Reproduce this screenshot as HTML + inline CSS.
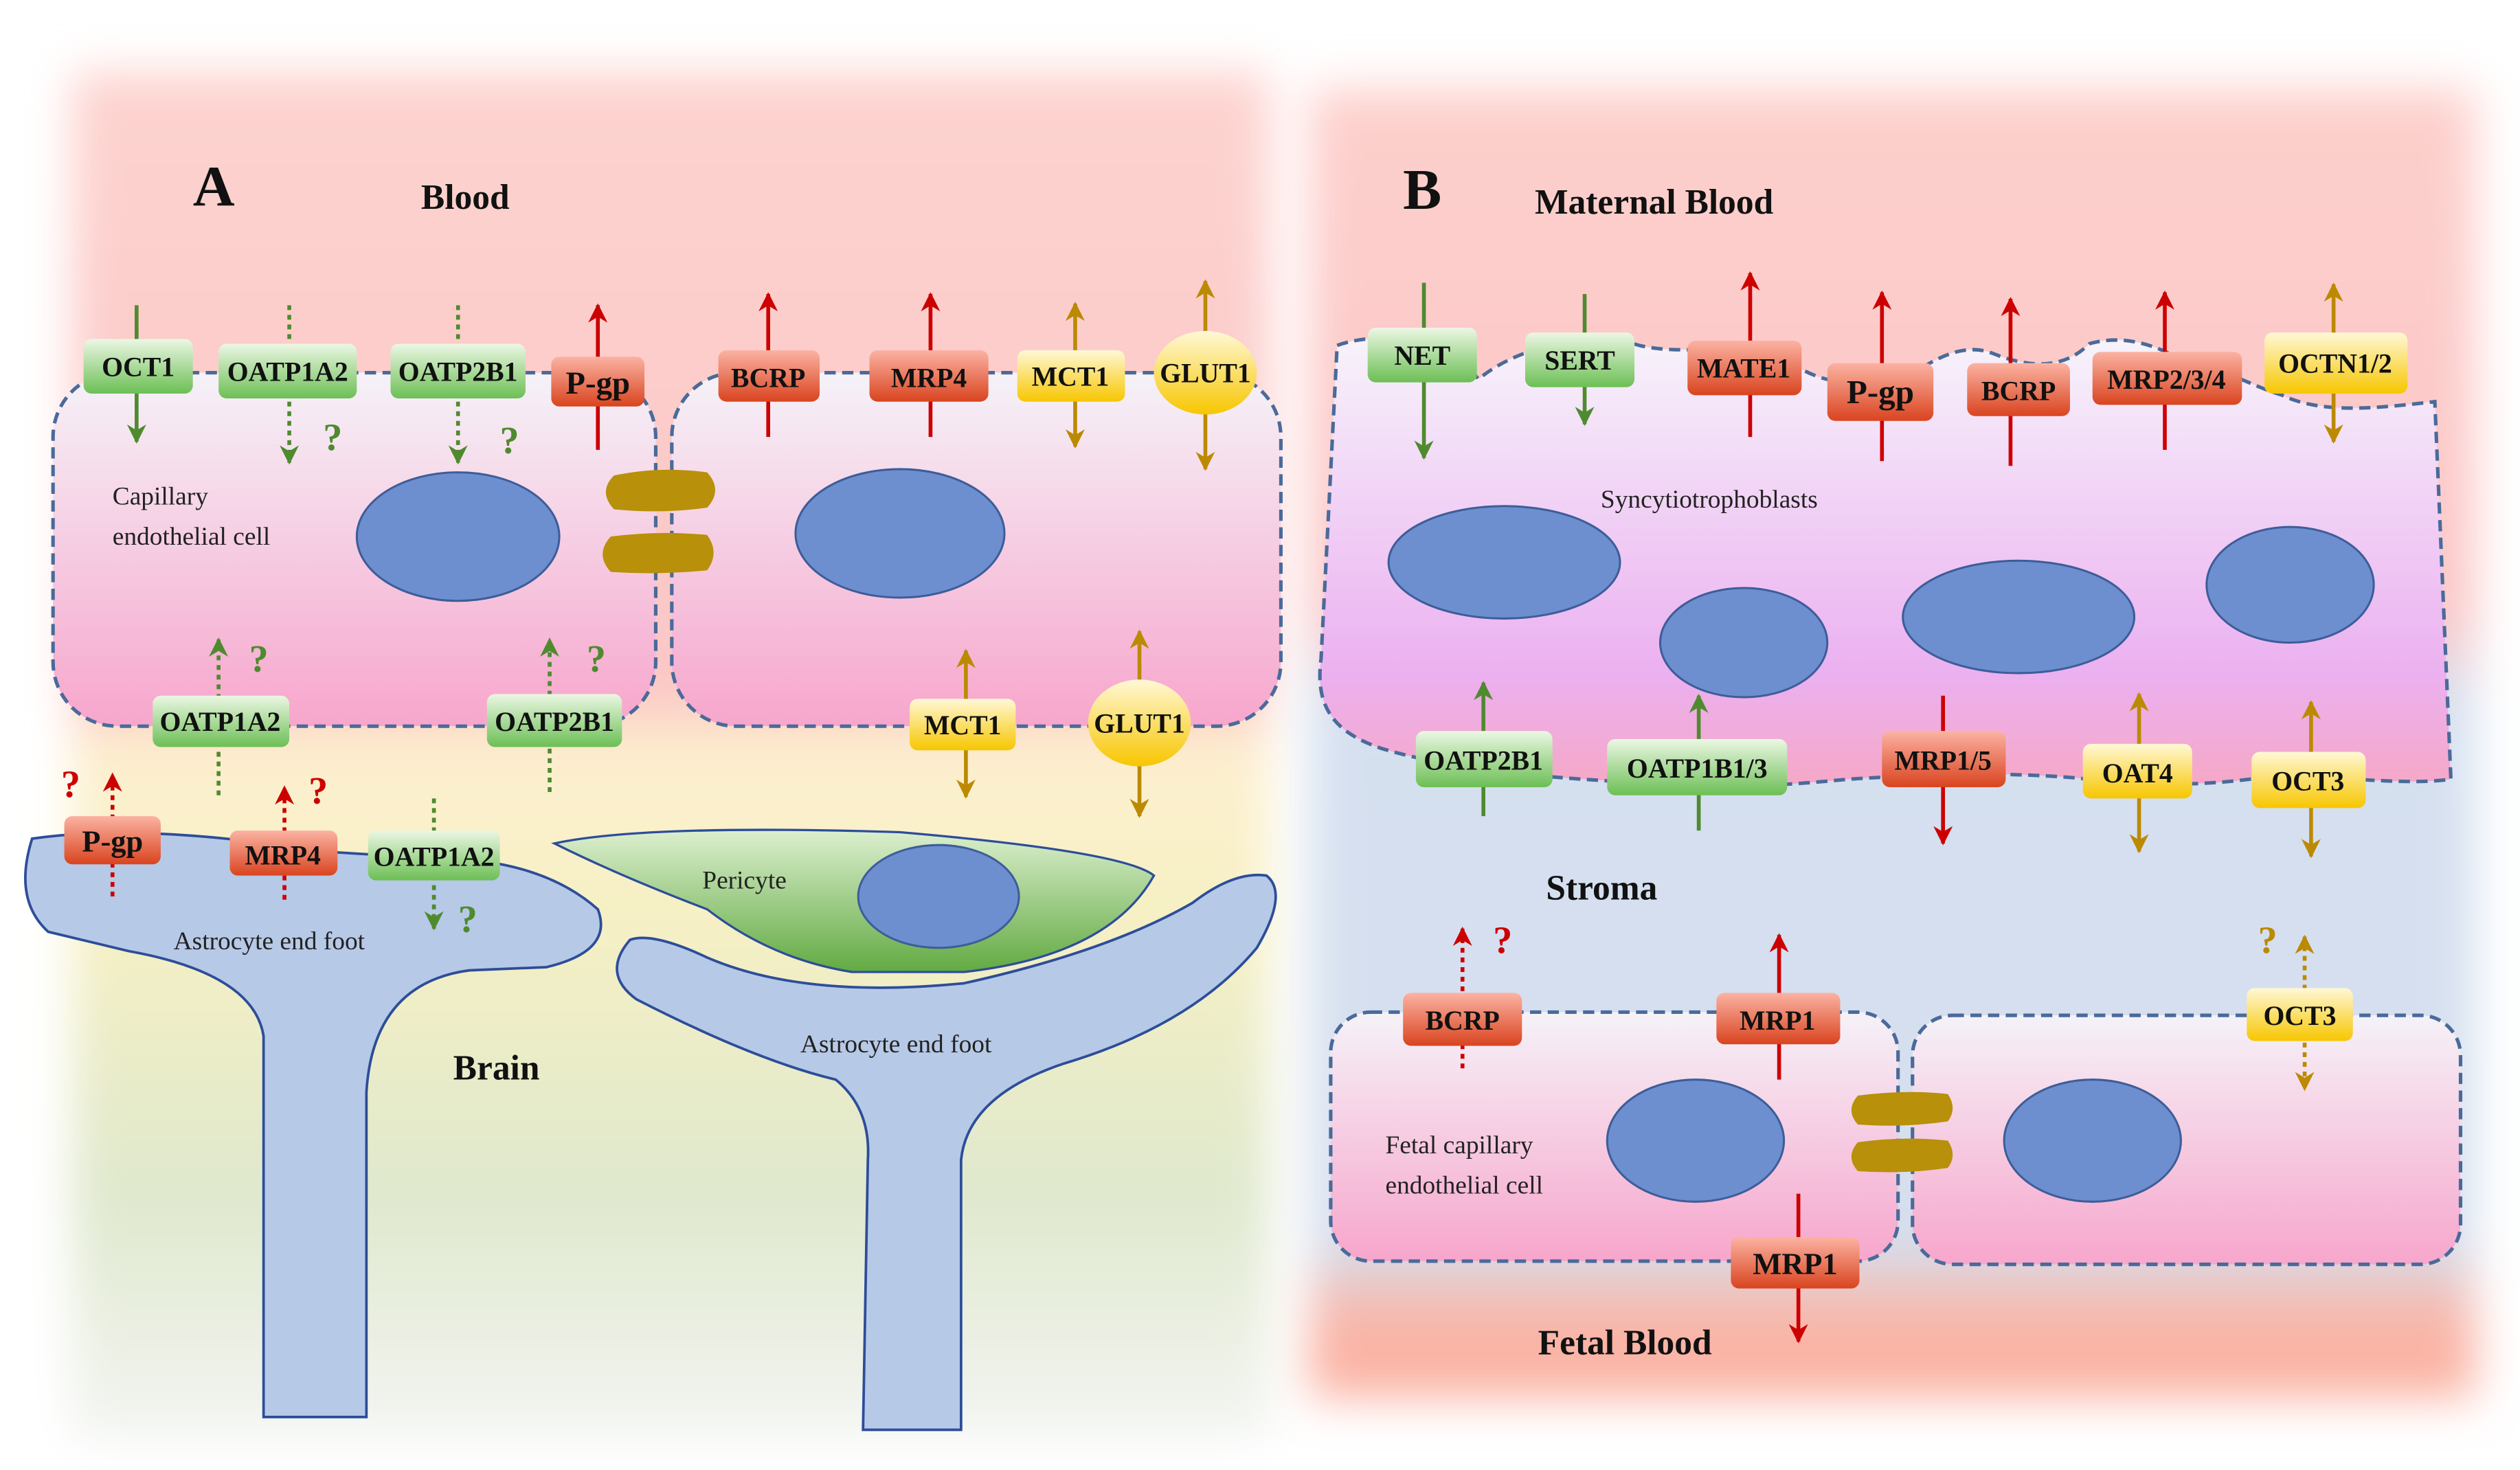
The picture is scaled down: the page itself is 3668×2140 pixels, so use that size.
<!DOCTYPE html>
<html><head><meta charset="utf-8"><style>
html,body{margin:0;padding:0;background:#fff;}
svg{display:block;font-family:"Liberation Serif","DejaVu Serif",serif;}
svg text{font-family:"Liberation Serif","DejaVu Serif",serif;}
.b{font-weight:bold;font-size:17px;text-anchor:middle;fill:#111;}
.t{font-size:16px;fill:#222;}
.h{font-weight:bold;font-size:22px;fill:#111;}
.q{font-weight:bold;font-size:24px;}
.cell{stroke:#4a6a9a;stroke-width:2.2;stroke-dasharray:7,4;}
.nuc{fill:#6d8fcf;stroke:#3d5d99;stroke-width:1.3;}
.g{stroke:#4f8a2f;stroke-width:2.4;fill:none;}
.r{stroke:#cc0000;stroke-width:2.4;fill:none;}
.y{stroke:#bb8a00;stroke-width:2.4;fill:none;}
.d{stroke-dasharray:3,3;}
</style></head><body>
<svg width="3668" height="2140" viewBox="0 0 1568 915" preserveAspectRatio="none" font-family="Liberation Serif, DejaVu Serif, serif" xmlns="http://www.w3.org/2000/svg">
<defs>
<filter id="bl" x="-10%" y="-10%" width="120%" height="120%"><feGaussianBlur stdDeviation="14"/></filter>
<linearGradient id="bgA" x1="0" y1="0" x2="0" y2="1">
<stop offset="0" stop-color="#fdd3cf"/><stop offset="0.45" stop-color="#fbc6c6"/><stop offset="0.5" stop-color="#fdf0cf"/><stop offset="0.62" stop-color="#f6f0c4"/><stop offset="0.82" stop-color="#dfe8cd"/><stop offset="1" stop-color="#f3f5f2"/></linearGradient>
<linearGradient id="bgB" x1="0" y1="0" x2="0" y2="1">
<stop offset="0" stop-color="#fdd0cc"/><stop offset="0.40" stop-color="#fbc6c6"/><stop offset="0.47" stop-color="#d5e0f0"/><stop offset="0.88" stop-color="#d5dfee"/><stop offset="0.94" stop-color="#f9b6a8"/><stop offset="1" stop-color="#fbb0a0"/></linearGradient>
<linearGradient id="cellg" x1="0" y1="0" x2="0" y2="1"><stop offset="0" stop-color="#f5f2f8"/><stop offset="1" stop-color="#f7a6cc"/></linearGradient>
<linearGradient id="syn" x1="0" y1="0" x2="0" y2="1"><stop offset="0" stop-color="#f7f3fb"/><stop offset="0.75" stop-color="#ebb0f0"/><stop offset="1" stop-color="#f6a8c6"/></linearGradient>
<linearGradient id="gg" x1="0" y1="0" x2="0" y2="1"><stop offset="0" stop-color="#ecf7e4"/><stop offset="1" stop-color="#6cbf55"/></linearGradient>
<linearGradient id="rg" x1="0" y1="0" x2="0" y2="1"><stop offset="0" stop-color="#fbb3a3"/><stop offset="1" stop-color="#d9441f"/></linearGradient>
<linearGradient id="yg" x1="0" y1="0" x2="0" y2="1"><stop offset="0" stop-color="#fff8d6"/><stop offset="1" stop-color="#f7c600"/></linearGradient>
<linearGradient id="peri" x1="0" y1="0" x2="0" y2="1"><stop offset="0" stop-color="#dcefcf"/><stop offset="1" stop-color="#62aa42"/></linearGradient>
<marker id="mg" viewBox="0 0 10 10" refX="9" refY="5" markerWidth="5" markerHeight="5" orient="auto-start-reverse" markerUnits="strokeWidth"><path d="M0,0 L10,5 L0,10 L3,5 z" fill="#4f8a2f"/></marker>
<marker id="mr" viewBox="0 0 10 10" refX="9" refY="5" markerWidth="5" markerHeight="5" orient="auto-start-reverse" markerUnits="strokeWidth"><path d="M0,0 L10,5 L0,10 L3,5 z" fill="#cc0000"/></marker>
<marker id="my" viewBox="0 0 10 10" refX="9" refY="5" markerWidth="5" markerHeight="5" orient="auto-start-reverse" markerUnits="strokeWidth"><path d="M0,0 L10,5 L0,10 L3,5 z" fill="#bb8a00"/></marker>
</defs>

<rect x="45" y="45" width="745" height="850" fill="url(#bgA)" filter="url(#bl)"/>
<rect x="815" y="55" width="725" height="815" fill="url(#bgB)" filter="url(#bl)"/>

<!-- ===== Panel A ===== -->
<text x="120" y="128" class="h" style="font-size:36px">A</text>
<text x="262" y="130" class="h">Blood</text>

<rect x="33" y="232" width="375" height="220" rx="40" fill="url(#cellg)" class="cell"/>
<rect x="418" y="232" width="379" height="220" rx="40" fill="url(#cellg)" class="cell"/>
<ellipse cx="285" cy="334" rx="63" ry="40" class="nuc"/>
<ellipse cx="560" cy="332" rx="65" ry="40" class="nuc"/>
<path d="M382,296 Q410,290 440,294 Q450,305 440,316 Q410,320 382,317 Q372,306 382,296 Z" fill="#b8900a"/>
<path d="M380,334 Q410,330 440,333 Q448,344 440,355 Q410,358 380,356 Q370,345 380,334 Z" fill="#b8900a"/>
<text x="70" y="314" class="t">Capillary</text>
<text x="70" y="339" class="t">endothelial  cell</text>

<line x1="85" y1="190" x2="85" y2="275" class="g" marker-end="url(#mg)"/>
<line x1="180" y1="190" x2="180" y2="288" class="g d" marker-end="url(#mg)"/>
<line x1="285" y1="190" x2="285" y2="288" class="g d" marker-end="url(#mg)"/>
<line x1="372" y1="280" x2="372" y2="190" class="r" marker-end="url(#mr)"/>
<line x1="478" y1="272" x2="478" y2="183" class="r" marker-end="url(#mr)"/>
<line x1="579" y1="272" x2="579" y2="183" class="r" marker-end="url(#mr)"/>
<line x1="669" y1="189" x2="669" y2="278" class="y" marker-start="url(#my)" marker-end="url(#my)"/>
<line x1="750" y1="175" x2="750" y2="292" class="y" marker-start="url(#my)" marker-end="url(#my)"/>
<text x="201" y="280" class="q" fill="#4f8a2f">?</text>
<text x="311" y="282" class="q" fill="#4f8a2f">?</text>

<rect x="52" y="211" width="68" height="34" rx="5" fill="url(#gg)"/><text x="86" y="234" class="b">OCT1</text>
<rect x="136" y="214" width="86" height="34" rx="5" fill="url(#gg)"/><text x="179" y="237" class="b">OATP1A2</text>
<rect x="243" y="214" width="84" height="34" rx="5" fill="url(#gg)"/><text x="285" y="237" class="b">OATP2B1</text>
<rect x="343" y="222" width="58" height="31" rx="5" fill="url(#rg)"/><text x="372" y="245" class="b" style="font-size:20px">P-gp</text>
<rect x="447" y="218" width="63" height="32" rx="5" fill="url(#rg)"/><text x="478" y="241" class="b">BCRP</text>
<rect x="541" y="218" width="74" height="32" rx="5" fill="url(#rg)"/><text x="578" y="241" class="b">MRP4</text>
<rect x="633" y="218" width="67" height="32" rx="5" fill="url(#yg)"/><text x="666" y="240" class="b">MCT1</text>
<ellipse cx="750" cy="232" rx="32" ry="26" fill="url(#yg)"/><text x="750" y="238" class="b">GLUT1</text>

<line x1="136" y1="495" x2="136" y2="398" class="g d" marker-end="url(#mg)"/>
<line x1="342" y1="493" x2="342" y2="398" class="g d" marker-end="url(#mg)"/>
<text x="155" y="418" class="q" fill="#4f8a2f">?</text>
<text x="365" y="418" class="q" fill="#4f8a2f">?</text>
<line x1="601" y1="405" x2="601" y2="496" class="y" marker-start="url(#my)" marker-end="url(#my)"/>
<line x1="709" y1="393" x2="709" y2="508" class="y" marker-start="url(#my)" marker-end="url(#my)"/>
<rect x="95" y="433" width="85" height="32" rx="5" fill="url(#gg)"/><text x="137" y="455" class="b">OATP1A2</text>
<rect x="303" y="432" width="84" height="33" rx="5" fill="url(#gg)"/><text x="345" y="455" class="b">OATP2B1</text>
<rect x="566" y="435" width="66" height="32" rx="5" fill="url(#yg)"/><text x="599" y="457" class="b">MCT1</text>
<ellipse cx="709" cy="450" rx="32" ry="27" fill="url(#yg)"/><text x="709" y="456" class="b">GLUT1</text>

<path d="M20,522 Q8,560 30,580 L80,592 Q158,606 164,645 L164,882 L228,882 L228,680 Q232,612 292,604 L340,602 Q382,592 372,566 Q345,542 300,536 L200,530 Q90,512 20,522 Z" fill="#b6c9e6" stroke="#2d4d99" stroke-width="1.6"/>
<text x="108" y="591" class="t">Astrocyte end foot</text>
<line x1="70" y1="558" x2="70" y2="482" class="r d" marker-end="url(#mr)"/>
<line x1="177" y1="560" x2="177" y2="490" class="r d" marker-end="url(#mr)"/>
<line x1="270" y1="497" x2="270" y2="578" class="g d" marker-end="url(#mg)"/>
<text x="38" y="496" class="q" fill="#cc0000">?</text>
<text x="192" y="500" class="q" fill="#cc0000">?</text>
<text x="285" y="580" class="q" fill="#4f8a2f">?</text>
<rect x="40" y="508" width="60" height="30" rx="5" fill="url(#rg)"/><text x="70" y="530" class="b" style="font-size:19px">P-gp</text>
<rect x="143" y="517" width="67" height="28" rx="5" fill="url(#rg)"/><text x="176" y="538" class="b">MRP4</text>
<rect x="229" y="517" width="82" height="31" rx="5" fill="url(#gg)"/><text x="270" y="539" class="b">OATP1A2</text>

<path d="M345,525 Q400,513 560,518 Q700,530 718,545 Q690,595 600,605 L530,605 Q480,597 440,566 Q385,545 345,525 Z" fill="url(#peri)" stroke="#2d4d99" stroke-width="1.4"/>
<ellipse cx="584" cy="558" rx="50" ry="32" class="nuc"/>
<text x="437" y="553" class="t">Pericyte</text>

<path d="M392,585 Q374,606 396,622 Q470,660 520,672 Q542,690 540,722 L537,890 L598,890 L598,722 Q602,682 662,662 Q742,638 782,590 Q802,556 788,545 Q768,542 742,562 Q690,592 600,612 Q500,622 440,596 Q406,580 392,585 Z" fill="#b6c9e6" stroke="#2d4d99" stroke-width="1.6"/>
<text x="498" y="655" class="t">Astrocyte end foot</text>
<text x="282" y="672" class="h">Brain</text>

<!-- ===== Panel B ===== -->
<text x="873" y="130" class="h" style="font-size:36px">B</text>
<text x="955" y="133" class="h">Maternal Blood</text>

<path d="M832,215 C860,205 900,212 920,236 C945,215 990,206 1020,215 C1050,222 1080,212 1110,222 C1130,240 1160,242 1185,236 C1200,226 1220,212 1240,220 C1270,232 1288,226 1300,214 C1320,208 1342,214 1360,226 C1382,228 1400,240 1420,246 C1445,258 1480,254 1515,250 L1525,485 C1490,490 1440,480 1400,485 C1360,490 1330,488 1300,485 C1250,480 1200,482 1150,485 C1100,490 1050,492 1000,486 C950,483 900,478 860,466 C830,456 818,440 822,410 Z" fill="url(#syn)" class="cell"/>
<ellipse cx="936" cy="350" rx="72" ry="35" class="nuc"/>
<ellipse cx="1085" cy="400" rx="52" ry="34" class="nuc"/>
<ellipse cx="1256" cy="384" rx="72" ry="35" class="nuc"/>
<ellipse cx="1425" cy="364" rx="52" ry="36" class="nuc"/>
<text x="996" y="316" class="t">Syncytiotrophoblasts</text>

<line x1="886" y1="176" x2="886" y2="285" class="g" marker-end="url(#mg)"/>
<line x1="986" y1="183" x2="986" y2="264" class="g" marker-end="url(#mg)"/>
<line x1="1089" y1="272" x2="1089" y2="170" class="r" marker-end="url(#mr)"/>
<line x1="1171" y1="287" x2="1171" y2="182" class="r" marker-end="url(#mr)"/>
<line x1="1251" y1="290" x2="1251" y2="186" class="r" marker-end="url(#mr)"/>
<line x1="1347" y1="280" x2="1347" y2="182" class="r" marker-end="url(#mr)"/>
<line x1="1452" y1="177" x2="1452" y2="275" class="y" marker-start="url(#my)" marker-end="url(#my)"/>

<rect x="851" y="204" width="68" height="34" rx="5" fill="url(#gg)"/><text x="885" y="227" class="b">NET</text>
<rect x="949" y="207" width="68" height="34" rx="5" fill="url(#gg)"/><text x="983" y="230" class="b">SERT</text>
<rect x="1050" y="212" width="71" height="34" rx="5" fill="url(#rg)"/><text x="1085" y="235" class="b">MATE1</text>
<rect x="1137" y="226" width="66" height="36" rx="5" fill="url(#rg)"/><text x="1170" y="251" class="b" style="font-size:21px">P-gp</text>
<rect x="1224" y="226" width="64" height="33" rx="5" fill="url(#rg)"/><text x="1256" y="249" class="b">BCRP</text>
<rect x="1302" y="219" width="93" height="33" rx="5" fill="url(#rg)"/><text x="1348" y="242" class="b">MRP2/3/4</text>
<rect x="1409" y="207" width="89" height="38" rx="5" fill="url(#yg)"/><text x="1453" y="232" class="b">OCTN1/2</text>

<line x1="923" y1="508" x2="923" y2="425" class="g" marker-end="url(#mg)"/>
<line x1="1057" y1="517" x2="1057" y2="433" class="g" marker-end="url(#mg)"/>
<line x1="1209" y1="433" x2="1209" y2="525" class="r" marker-end="url(#mr)"/>
<line x1="1331" y1="432" x2="1331" y2="530" class="y" marker-start="url(#my)" marker-end="url(#my)"/>
<line x1="1438" y1="437" x2="1438" y2="533" class="y" marker-start="url(#my)" marker-end="url(#my)"/>
<rect x="881" y="455" width="85" height="35" rx="5" fill="url(#gg)"/><text x="923" y="479" class="b">OATP2B1</text>
<rect x="1000" y="460" width="112" height="35" rx="5" fill="url(#gg)"/><text x="1056" y="484" class="b">OATP1B1/3</text>
<rect x="1171" y="455" width="77" height="35" rx="5" fill="url(#rg)"/><text x="1209" y="479" class="b">MRP1/5</text>
<rect x="1296" y="463" width="68" height="34" rx="5" fill="url(#yg)"/><text x="1330" y="487" class="b">OAT4</text>
<rect x="1401" y="468" width="71" height="35" rx="5" fill="url(#yg)"/><text x="1436" y="492" class="b">OCT3</text>

<text x="962" y="560" class="h">Stroma</text>

<rect x="828" y="630" width="353" height="155" rx="25" fill="url(#cellg)" class="cell"/>
<rect x="1190" y="632" width="341" height="155" rx="25" fill="url(#cellg)" class="cell"/>
<ellipse cx="1055" cy="710" rx="55" ry="38" class="nuc"/>
<ellipse cx="1302" cy="710" rx="55" ry="38" class="nuc"/>
<path d="M1156,682 Q1185,678 1212,681 Q1218,690 1212,698 Q1185,702 1156,700 Q1148,691 1156,682 Z" fill="#b8900a"/>
<path d="M1156,711 Q1185,707 1212,710 Q1218,719 1212,727 Q1185,731 1156,729 Q1148,720 1156,711 Z" fill="#b8900a"/>
<text x="862" y="718" class="t">Fetal capillary</text>
<text x="862" y="743" class="t">endothelial cell</text>

<line x1="910" y1="665" x2="910" y2="578" class="r d" marker-end="url(#mr)"/>
<line x1="1107" y1="672" x2="1107" y2="582" class="r" marker-end="url(#mr)"/>
<line x1="1434" y1="583" x2="1434" y2="678" class="y d" marker-start="url(#my)" marker-end="url(#my)"/>
<line x1="1119" y1="743" x2="1119" y2="835" class="r" marker-end="url(#mr)"/>
<text x="929" y="593" class="q" fill="#cc0000">?</text>
<text x="1405" y="593" class="q" fill="#bb8a00">?</text>
<rect x="873" y="618" width="74" height="33" rx="5" fill="url(#rg)"/><text x="910" y="641" class="b">BCRP</text>
<rect x="1068" y="618" width="77" height="32" rx="5" fill="url(#rg)"/><text x="1106" y="641" class="b">MRP1</text>
<rect x="1398" y="615" width="66" height="33" rx="5" fill="url(#yg)"/><text x="1431" y="638" class="b">OCT3</text>
<rect x="1077" y="770" width="80" height="32" rx="5" fill="url(#rg)"/><text x="1117" y="793" class="b" style="font-size:19px">MRP1</text>

<text x="957" y="843" class="h">Fetal Blood</text>
</svg>
</body></html>
